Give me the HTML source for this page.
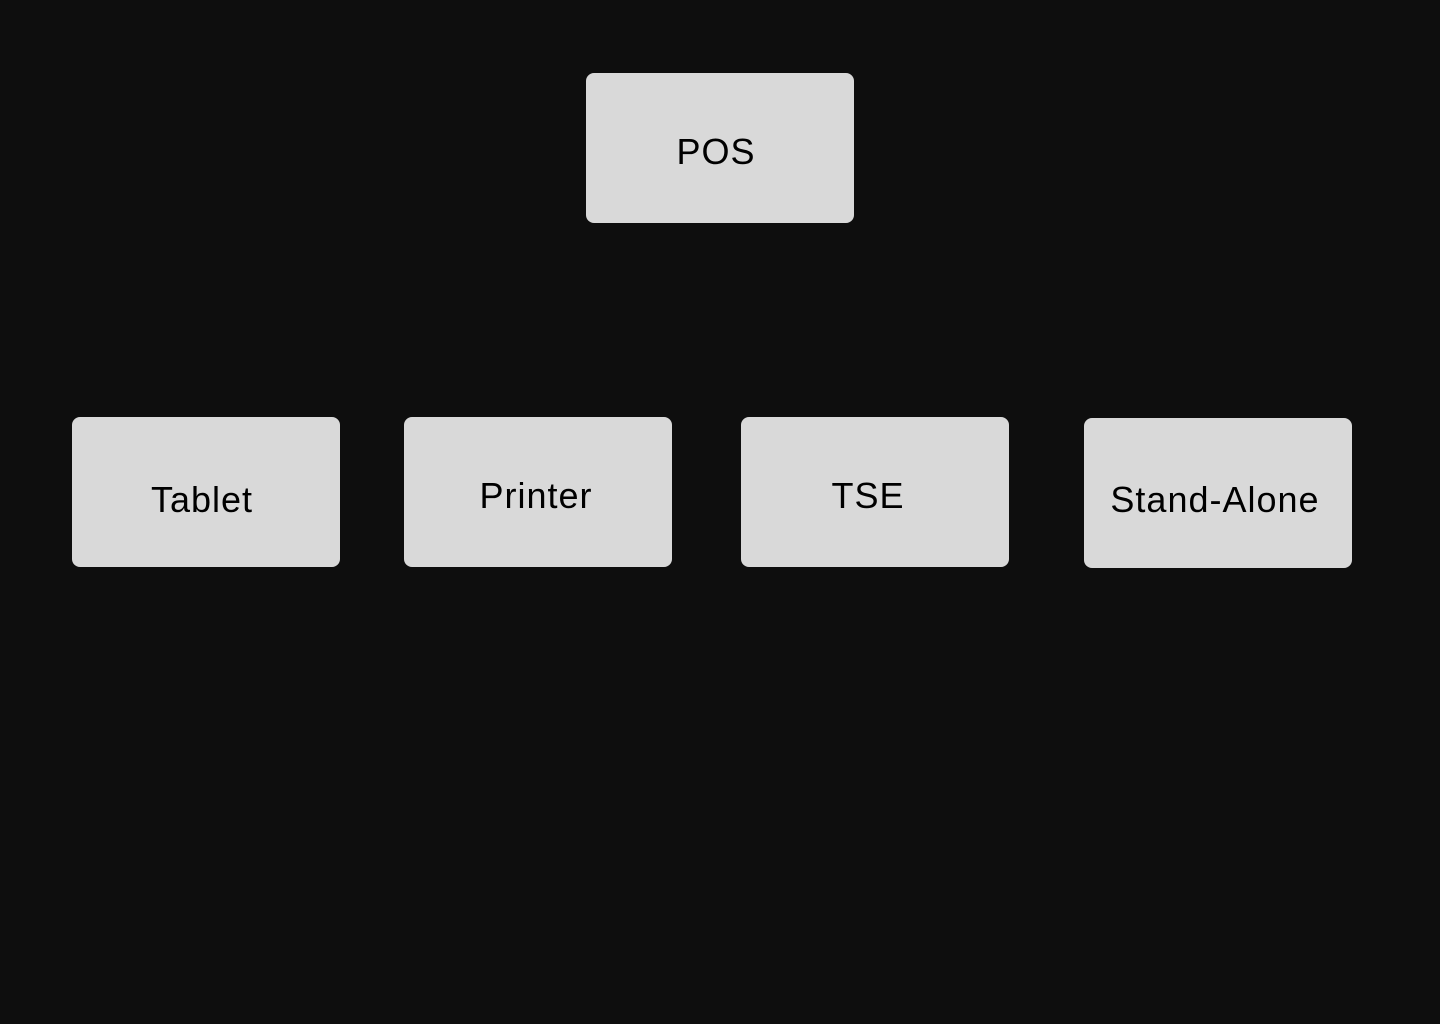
<!DOCTYPE html>
<html><head><style>
html,body{margin:0;padding:0;background:#0e0e0e;width:1440px;height:1024px;overflow:hidden}
.b{position:absolute;background:#d9d9d9;border-radius:8px;width:268px;height:150px;font-family:"Liberation Sans",sans-serif;font-size:36px;color:#000;letter-spacing:1px}
.b span{position:absolute;left:0;right:0;text-align:center}
</style></head><body>
<div class="b" style="left:586px;top:73px;height:150px"><span style="top:58px;left:-8px">POS</span></div>
<div class="b" style="left:72px;top:417px"><span style="top:62px;left:-8px">Tablet</span></div>
<div class="b" style="left:404px;top:417px"><span style="top:58px;left:-4px">Printer</span></div>
<div class="b" style="left:741px;top:417px"><span style="top:58px;left:-14px">TSE</span></div>
<div class="b" style="left:1084px;top:418px"><span style="top:61px;left:-6px">Stand-Alone</span></div>
</body></html>
